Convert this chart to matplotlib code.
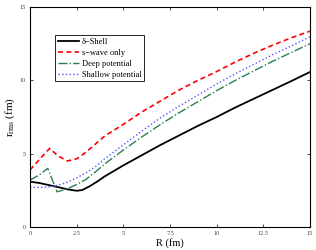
import matplotlib.pyplot as plt

plt.rcParams['font.family'] = ['Liberation Serif', 'DejaVu Serif']
plt.rcParams['mathtext.fontset'] = 'stix'

# R values (fm) and r_rms curves
R_shell = [0, 0.5, 1, 1.5, 2, 2.5, 2.8, 3.2, 3.6, 4, 5, 6, 7, 8, 9, 10, 11, 12, 13, 14, 15]
shell = [3.09, 3.0, 2.86, 2.72, 2.57, 2.47, 2.52, 2.78, 3.1, 3.45, 4.2, 4.9, 5.6, 6.25, 6.9, 7.5, 8.15, 8.75, 9.35, 9.95, 10.57]

R_swave = [0, 0.5, 1.05, 1.5, 2, 2.5, 3, 3.5, 4, 5, 6, 7, 8, 9, 10, 11, 12, 13, 14, 15]
swave = [3.89, 4.6, 5.36, 4.85, 4.5, 4.65, 5.1, 5.65, 6.2, 7.0, 7.85, 8.6, 9.35, 10.0, 10.6, 11.25, 11.85, 12.4, 12.9, 13.35]

R_deep = [0, 0.5, 0.95, 1.2, 1.45, 2, 2.5, 3, 3.5, 4, 5, 6, 7, 8, 9, 10, 11, 12, 13, 14, 15]
deep = [3.2, 3.55, 4.0, 3.2, 2.4, 2.6, 2.9, 3.25, 3.75, 4.3, 5.25, 6.15, 7.0, 7.8, 8.55, 9.3, 10.0, 10.65, 11.3, 11.9, 12.5]

R_shallow = [0, 0.5, 1, 1.5, 2, 2.5, 3, 3.5, 4, 5, 6, 7, 8, 9, 10, 11, 12, 13, 14, 15]
shallow = [2.7, 2.7, 2.72, 2.85, 3.05, 3.35, 3.7, 4.1, 4.65, 5.6, 6.55, 7.45, 8.25, 9.0, 9.75, 10.45, 11.1, 11.75, 12.35, 12.97]

xticks = [0, 2.5, 5, 7.5, 10, 12.5, 15]
yticks = [0, 5, 10, 15]

fig = plt.figure(figsize=(3.16, 2.5), dpi=100)
ax = fig.add_axes([0.095, 0.092, 0.886, 0.88])

ax.plot(R_shell, shell, color='black', lw=1.3, label='δ−Shell')
ax.plot(R_swave, swave, color='red', lw=1.2, linestyle=(0, (3, 2)), label='s−wave only')
ax.plot(R_deep, deep, color='#2e7d4f', lw=1.0, linestyle='-.', label='Deep potential')
ax.plot(R_shallow, shallow, color='#5555ff', lw=1.0, linestyle=':', label='Shallow potential')

ax.set_xlim(0, 15)
ax.set_ylim(0, 15)
ax.set_xticks(xticks)
ax.set_xticklabels(['0', '2.5', '5', '7.5', '10', '12.5', '15'])
ax.set_yticks(yticks)
ax.tick_params(direction='in', length=2.5, width=0.5, labelsize=4.5,
               top=True, right=True, labelcolor='#444444', pad=3)
for s in ax.spines.values():
    s.set_linewidth(0.8)

ax.set_xlabel('R (fm)', fontsize=7.5, labelpad=1)
ax.set_ylabel(r'r$_{\rm rms}$ (fm)', fontsize=8, labelpad=2)

leg = ax.legend(loc='upper left', bbox_to_anchor=(0.075, 0.89), fontsize=6,
                fancybox=False, framealpha=1, edgecolor='black',
                handlelength=2.6, borderpad=0.3, labelspacing=0.35, handletextpad=0.3)
leg.get_frame().set_linewidth(0.6)

fig.savefig('out.png', dpi=100)
